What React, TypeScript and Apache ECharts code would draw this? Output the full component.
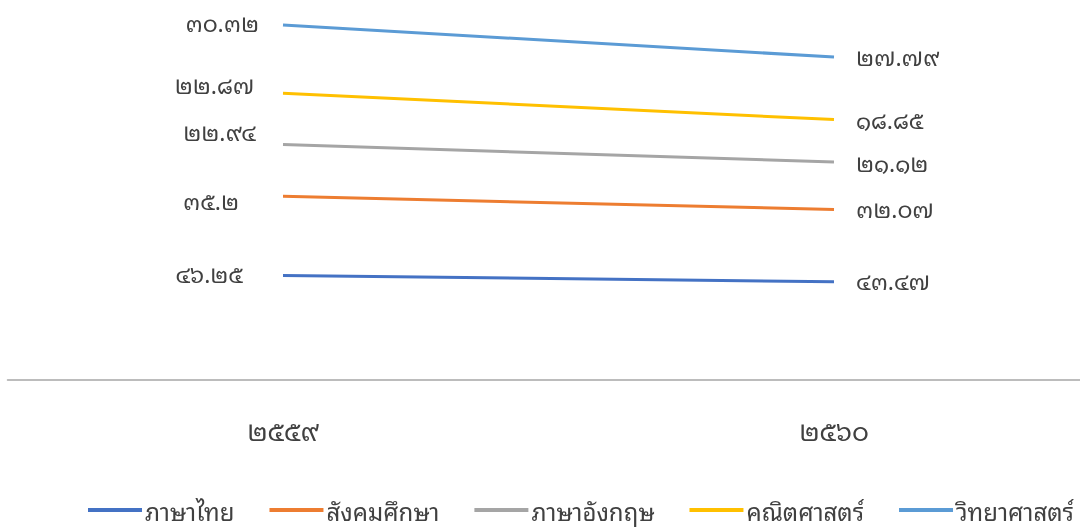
import React, { useEffect, useRef } from "react";
import * as echarts from "echarts";

const categories = ["๒๕๕๙", "๒๕๖๐"];
const seriesNames = ["ภาษาไทย", "สังคมศึกษา", "ภาษาอังกฤษ", "คณิตศาสตร์", "วิทยาศาสตร์"];
const thai = [46.25, 43.47];
const social = [35.2, 32.07];
const english = [22.94, 21.12];
const math = [22.87, 18.85];
const science = [30.32, 27.79];
const seriesValues = [thai, social, english, math, science];

const colors = ["#4472C4", "#ED7D31", "#A5A5A5", "#FFC000", "#5B9BD5"];
// label nudges [dx, dy] for the left (first) and right (second) labels, per series
const leftNudge = [[-16, -3], [-20, 3], [-3, -14], [-5, -10], [0, -3]];
const rightNudge = [[0, -2], [0, -2], [0, -1], [0, -1], [0, -2]];

const thaiDigits = "๐๑๒๓๔๕๖๗๘๙";
const toThai = (v: number) => String(v).replace(/[0-9]/g, (d) => thaiDigits[Number(d)]);

const FONT = "'Noto Sans Thai Looped', 'Noto Sans Thai', sans-serif";

export default function App() {
  const ref = useRef<HTMLDivElement>(null);
  useEffect(() => {
    if (!ref.current) return;
    const chart = echarts.init(ref.current, undefined, { renderer: "svg" });
    const series = seriesNames.map((name, si) => ({
      name,
      type: "line",
      stack: "total",
      symbol: "circle",
      symbolSize: 0,
      showSymbol: true,
      lineStyle: { width: 3, color: colors[si] },
      itemStyle: { color: colors[si] },
      labelLayout: (params: any) => {
        const n = params.dataIndex === 0 ? leftNudge[si] : rightNudge[si];
        return { dx: n[0], dy: n[1], hideOverlap: false };
      },
      data: seriesValues[si].map((v, i) => ({
        value: v,
        label: {
          show: true,
          position: i === 0 ? "left" : "right",
          distance: i === 0 ? 24 : 22,
          formatter: () => toThai(v),
          color: "#404040",
          fontSize: 23,
          fontFamily: FONT,
        },
      })),
    }));
    chart.setOption({
      animation: false,
      color: colors,
      grid: { left: 7.5, right: 0.5, top: 19.5, bottom: 151.5 },
      xAxis: {
        type: "category",
        data: categories,
        boundaryGap: true,
        axisLine: { show: true, lineStyle: { color: "#A6A6A6", width: 1.5 } },
        axisTick: { show: false },
        axisLabel: { margin: 36, color: "#404040", fontSize: 26, fontFamily: FONT },
      },
      yAxis: {
        type: "value",
        min: 0,
        max: 160,
        show: false,
        splitLine: { show: false },
      },
      legend: {
        bottom: 8,
        left: 88,
        padding: 0,
        itemWidth: 54,
        itemHeight: 4,
        itemGap: 35,
        icon: "rect",
        textStyle: {
          color: "#404040",
          fontSize: 24,
          lineHeight: 26,
          fontFamily: FONT,
          padding: [0, 0, 0, -2],
        },
        data: seriesNames,
      },
      series,
    });
    return () => chart.dispose();
  }, []);
  return (
    <div style={{ position: "fixed", left: 0, top: 0, width: 1080, height: 531, overflow: "hidden" }}>
      <div ref={ref} style={{ width: 1110, height: 531 }} />
    </div>
  );
}
